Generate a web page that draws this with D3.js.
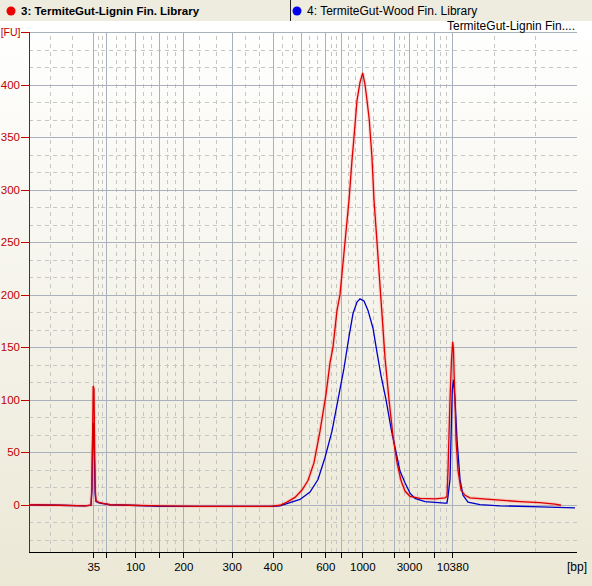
<!DOCTYPE html>
<html lang="en">
<head>
<meta charset="UTF-8">
<title>Electropherogram</title>
<script src="https://cdn.jsdelivr.net/npm/d3@7/dist/d3.min.js"></script>
<style>
  body { margin: 0; background: #ece9d8; }
  svg { display: block; font-family: "Liberation Sans", Arial, sans-serif; }
  .grid-major { stroke: #a9b1bc; stroke-width: 1; shape-rendering: crispEdges; }
  .grid-minor { stroke: #c6c6c2; stroke-width: 1; stroke-dasharray: 4,4; shape-rendering: crispEdges; }
  .yaxis path, .yaxis line { stroke: #c00000; shape-rendering: crispEdges; }
  .yaxis text { fill: #c00000; font-size: 11.5px; }
  .xaxis path, .xaxis line { stroke: #000; shape-rendering: crispEdges; }
  .xaxis text { fill: #000; font-size: 11.5px; }
</style>
</head>
<body>
<script>
  // ladder peaks (bp) and their migration times (s)
  const ladderBp = [35, 50, 100, 150, 200, 300, 400, 500, 600, 700, 1000, 2000, 3000, 7000, 10380];
  const ladderTime = [32.86, 35.46, 41.2, 46.06, 50.86, 60.54, 68.74, 74.46, 79.26, 82.46, 86.66, 92.9, 96.0, 101.06, 104.66];
  const labelledBp = [35, 100, 200, 300, 400, 600, 1000, 3000, 10380];
  const fuTicks = [0, 50, 100, 150, 200, 250, 300, 350, 400];

  // 3: TermiteGut-Lignin Fin. Library
  const ligninTime = [20, 26.2, 31.2, 32.4, 32.56, 32.7, 32.84, 33.0, 33.12, 33.24, 33.4, 33.8, 34.6, 36.2, 40.2, 46.2, 54.2, 62.2, 68.2,
    70.2, 71.6, 73.2, 74.6, 75.8, 77.0, 78.2, 79.4, 80.2, 80.8, 81.6, 82.2, 83.2, 84.0, 84.6, 85.0, 85.6, 86.2, 86.74,
    87.2, 87.6, 88.06, 88.6, 89.0, 89.6, 90.4, 91.2, 92.0, 92.8, 93.6, 94.4, 95.2, 96.2, 98.2, 101.2, 103.2,
    103.6, 103.8, 104.2, 104.5, 104.74, 104.9, 105.0, 105.2, 105.4, 105.8, 106.4, 107.2, 108.2, 112.2, 118.2, 122.2, 125.2, 126.4];
  const ligninFU = [0, -0.5, -1, -0.5, 15, 60, 113, 110, 60, 15, 4, 2.5, 1.5, 0, -0.5, -1, -1.5, -1.5, -1.5,
    -0.5, 2.5, 7, 14, 23, 40, 70, 105, 135, 150, 185, 200, 250, 290, 328, 350, 385, 402, 411,
    400, 385, 366, 330, 290, 250, 195, 140, 100, 65, 40, 23, 13, 8, 6, 5.5, 6.5,
    8, 33, 100, 138, 155, 148, 128, 100, 62, 33, 14, 9, 6.5, 5, 3, 2, 0.5, -0.5];

  // 4: TermiteGut-Wood Fin. Library
  const woodTime = [20, 26.2, 31.2, 32.4, 32.6, 32.76, 32.92, 33.1, 33.24, 33.4, 34.2, 36.2, 40.2, 46.2, 54.2, 62.2, 68.6,
    70.2, 72.2, 74.2, 76.2, 77.8, 79.2, 80.6, 81.8, 83.0, 84.0, 84.8, 85.6, 86.2, 87.0, 87.8, 88.8,
    89.6, 90.4, 91.4, 92.4, 93.4, 94.2, 95.2, 96.2, 97.2, 99.2, 103.2,
    103.6, 103.8, 104.2, 104.5, 104.66, 104.9, 105.2, 105.6, 106.2, 106.8, 107.8, 110.2, 114.2, 122.2, 129.2];
  const woodFU = [0, -0.5, -1, -0.5, 15, 78, 75, 40, 10, 3, 1.5, 0, -0.5, -1.5, -1.5, -1.5, -1.5,
    -1, 2, 5, 12, 24, 45, 70, 100, 130, 160, 182, 193, 196, 194, 185, 168, 145,
    123, 100, 73, 50, 32, 21, 11, 6, 3, 1.5, 1.5,
    8, 24, 81, 110, 119, 100, 62, 24, 9, 2.5, 0, -1, -2, -3, -4];

  const width = 592, height = 586;
  const margin = { top: 32, right: 15, bottom: 34, left: 29 };
  const header = 21;

  const svg = d3.select('body').append('svg')
    .attr('width', width)
    .attr('height', height);

  const defs = svg.append('defs');
  const grad = defs.append('linearGradient')
    .attr('id', 'bg').attr('x1', 0).attr('y1', 0).attr('x2', 0).attr('y2', 1);
  grad.append('stop').attr('offset', '0%').attr('stop-color', '#ffffff');
  grad.append('stop').attr('offset', '100%').attr('stop-color', '#ebe8d6');

  svg.append('rect')
    .attr('x', 0).attr('y', header)
    .attr('width', width).attr('height', height - header)
    .attr('fill', 'url(#bg)');

  // scales
  const x = d3.scaleLinear()
    .domain([20, 129.6])
    .range([margin.left, width - margin.right]);
  const y = d3.scaleLinear()
    .domain([-45, 450])
    .range([height - margin.bottom, margin.top]);

  // grid
  const grid = svg.append('g');
  const vMajors = [x.domain()[0]].concat(ladderTime, [x.domain()[1]]);
  const vMinors = [];
  for (let i = 0; i < vMajors.length - 1; i++) {
    const a = vMajors[i], b = vMajors[i + 1];
    vMinors.push(a + (b - a) / 3, a + 2 * (b - a) / 3);
  }
  const hMajors = d3.range(0, 451, 50);
  const hMinors = [];
  d3.range(-50, 450, 50).forEach(k => {
    [k + 50 / 3, k + 100 / 3].forEach(v => { if (v > y.domain()[0]) hMinors.push(v); });
  });

  grid.selectAll('.hmin').data(hMinors).enter().append('line')
    .attr('class', 'grid-minor')
    .attr('x1', x.range()[0]).attr('x2', x.range()[1])
    .attr('y1', d => Math.round(y(d)) + 0.5).attr('y2', d => Math.round(y(d)) + 0.5);
  grid.selectAll('.vmin').data(vMinors).enter().append('line')
    .attr('class', 'grid-minor')
    .attr('y1', y.range()[0]).attr('y2', y.range()[1])
    .attr('x1', d => Math.round(x(d)) + 0.5).attr('x2', d => Math.round(x(d)) + 0.5);
  grid.selectAll('.hmaj').data(hMajors).enter().append('line')
    .attr('class', 'grid-major')
    .attr('x1', x.range()[0]).attr('x2', x.range()[1])
    .attr('y1', d => Math.round(y(d)) + 0.5).attr('y2', d => Math.round(y(d)) + 0.5);
  grid.selectAll('.vmaj').data(ladderTime).enter().append('line')
    .attr('class', 'grid-major')
    .attr('y1', y.range()[0]).attr('y2', y.range()[1])
    .attr('x1', d => Math.round(x(d)) + 0.5).attr('x2', d => Math.round(x(d)) + 0.5);

  // axes
  const xAxis = d3.axisBottom(x)
    .tickValues(ladderTime)
    .tickSize(6)
    .tickPadding(5)
    .tickFormat((d, i) => labelledBp.includes(ladderBp[i]) ? ladderBp[i] : '');
  svg.append('g')
    .attr('class', 'xaxis')
    .attr('transform', `translate(0,${y.range()[0]})`)
    .call(xAxis)
    .call(g => g.select('.domain').attr('d', `M${x.range()[0]},0.5H${x.range()[1]}`));

  const yAxis = d3.axisLeft(y)
    .tickValues(fuTicks.concat([450]))
    .tickSize(8)
    .tickPadding(1)
    .tickFormat(d => d === 450 ? '[FU]' : d);
  svg.append('g')
    .attr('class', 'yaxis')
    .attr('transform', `translate(${x.range()[0]},0)`)
    .call(yAxis)
    .call(g => g.select('.domain').attr('d', `M0.5,${y.range()[0]}V${y.range()[1]}`))
    .call(g => g.selectAll('.tick text').filter(d => d === 450)
      .style('font-size', '10.5px').attr('x', -8.5));

  svg.append('text')
    .attr('x', 587).attr('y', 571)
    .attr('text-anchor', 'end')
    .attr('font-size', 12)
    .text('[bp]');

  // traces
  const line = d3.line()
    .x(d => x(d[0]))
    .y(d => y(d[1]));
  const wood = d3.zip(woodTime, woodFU);
  const lignin = d3.zip(ligninTime, ligninFU);

  svg.append('path').datum(lignin)
    .attr('d', line).attr('fill', 'none')
    .attr('stroke', '#ff8080').attr('stroke-opacity', 0.3).attr('stroke-width', 3.5);
  svg.append('path').datum(wood)
    .attr('d', line).attr('fill', 'none')
    .attr('stroke', '#0000c8').attr('stroke-width', 1.3);
  svg.append('path').datum(lignin)
    .attr('d', line).attr('fill', 'none')
    .attr('stroke', '#dd0000').attr('stroke-width', 1.3);

  svg.append('text')
    .attr('x', 575).attr('y', 29.5)
    .attr('text-anchor', 'end')
    .attr('font-size', 12)
    .text('TermiteGut-Lignin Fin....');

  // header tabs
  const head = svg.append('g');
  head.append('rect')
    .attr('x', 0).attr('y', 0).attr('width', width).attr('height', header)
    .attr('fill', '#eeebdf');
  head.append('line')
    .attr('x1', 290.5).attr('x2', 290.5).attr('y1', 0).attr('y2', header)
    .attr('stroke', '#222');
  const tabs = [
    { label: '3: TermiteGut-Lignin Fin. Library', color: '#ee0000', x: 0, bold: true, size: 11.5 },
    { label: '4: TermiteGut-Wood Fin. Library', color: '#0000ee', x: 286, bold: false, size: 12 }
  ];
  tabs.forEach(t => {
    head.append('circle').attr('cx', t.x + 11).attr('cy', 11).attr('r', 4.5).attr('fill', t.color);
    head.append('text')
      .attr('x', t.x + 21).attr('y', 15)
      .attr('font-size', t.size)
      .attr('font-weight', t.bold ? 'bold' : 'normal')
      .text(t.label);
  });
</script>
</body>
</html>
